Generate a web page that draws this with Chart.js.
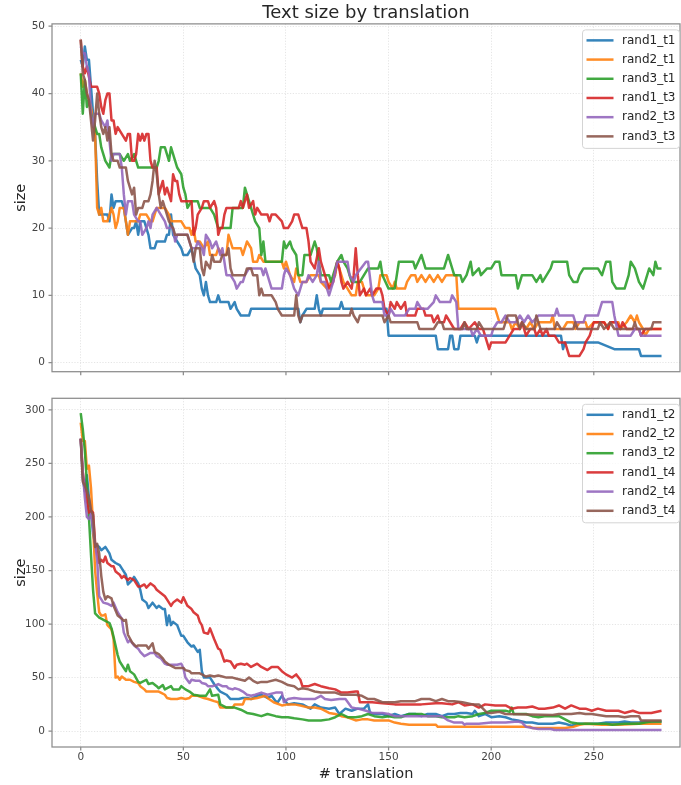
<!DOCTYPE html>
<html>
<head>
	<title>Text size by translation</title>
	<script src="https://cdn.jsdelivr.net/npm/chart.js"></script>
	<style type="text/css">
		body {
			margin: 0;
			padding: 0;
			background: #fff;
		}
		canvas {
			display: block;
		}
	</style>
</head>
<body>
	<canvas id="top" width="681" height="385"></canvas>
	<canvas id="bottom" width="681" height="400"></canvas>

	<script>
		// tick labels
		const xTicks = [0, 50, 100, 150, 200, 250];
		const topTicks = [0, 10, 20, 30, 40, 50];
		const bottomTicks = [0, 50, 100, 150, 200, 250, 300];

		// series names
		const topLabels = ['rand1_t1', 'rand2_t1', 'rand3_t1', 'rand1_t3', 'rand2_t3', 'rand3_t3'];
		const bottomLabels = ['rand1_t2', 'rand2_t2', 'rand3_t2', 'rand1_t4', 'rand2_t4', 'rand3_t4'];
		const colors = ['rgba(31,119,180,0.9)', 'rgba(255,127,14,0.9)', 'rgba(44,160,44,0.9)',
			'rgba(214,39,40,0.9)', 'rgba(148,103,189,0.9)', 'rgba(140,86,75,0.9)'];

		// top panel: [translation, size]
		const rand1_t1 = [[0,45],[1,44],[2,47],[3,45],[4,45],[5,41],[6,37],[7,34],[8,27],[9,22],[13,22],[14,21],[15,25],[16,23],[17,24],[20,24],[21,23],[22,21],[23,19],[25,20],[26,20],[27,21],[28,19],[29,21],[31,21],[33,19],[34,17],[36,17],[37,18],[41,18],[42,19],[43,19],[44,22],[45,19],[47,18],[49,17],[50,16],[52,16],[54,17],[56,14],[58,13],[59,11],[60,10],[61,12],[62,10],[63,9],[66,9],[67,10],[68,9],[72,9],[73,8],[75,9],[76,8],[78,7],[82,7],[83,8],[106,8],[107,6],[108,7],[110,8],[114,8],[115,10],[116,8],[117,7],[118,8],[126,8],[127,9],[128,8],[149,8],[150,4],[173,4],[174,2],[179,2],[180,4],[181,4],[182,2],[184,2],[185,4],[192,4],[193,3],[194,4],[234,4],[235,2],[236,3],[252,3],[260,2],[272,2],[273,1],[283,1]];
		const rand2_t1 = [[0,43],[1,41],[2,42],[3,40],[4,39],[5,38],[6,36],[7,34],[8,23],[9,22],[10,23],[11,21],[13,21],[14,22],[15,23],[16,22],[17,20],[18,21],[19,23],[21,23],[22,21],[23,19],[24,21],[28,21],[29,22],[32,22],[34,21],[35,21],[37,23],[41,23],[43,22],[44,21],[49,21],[51,20],[53,20],[54,19],[55,20],[56,18],[58,18],[60,17],[62,18],[63,16],[66,16],[67,17],[69,16],[71,16],[72,19],[74,17],[78,17],[79,16],[81,18],[83,17],[84,15],[86,15],[87,16],[89,15],[98,15],[99,14],[100,15],[102,13],[104,12],[105,14],[107,12],[110,12],[112,13],[116,13],[117,12],[120,11],[122,12],[124,13],[125,15],[127,13],[128,12],[130,11],[132,10],[134,10],[135,12],[137,12],[139,10],[143,10],[145,11],[146,13],[149,13],[150,12],[152,11],[153,12],[154,11],[158,11],[159,12],[161,13],[163,13],[164,12],[166,13],[168,12],[170,13],[172,12],[174,13],[176,12],[178,13],[183,13],[184,8],[202,8],[204,6],[209,6],[210,5],[212,6],[214,5],[215,6],[217,5],[219,6],[221,5],[223,6],[229,6],[230,7],[231,5],[235,5],[237,6],[240,6],[241,5],[243,6],[246,6],[247,5],[250,6],[255,6],[257,5],[258,6],[262,6],[263,5],[266,6],[268,7],[270,6],[271,7],[272,6],[274,5],[275,4],[277,5],[283,5]];
		const rand3_t1 = [[0,43],[1,37],[2,42],[3,38],[4,39],[5,37],[6,36],[8,34],[9,34],[10,32],[12,30],[14,29],[15,31],[19,31],[21,30],[23,31],[24,30],[26,31],[28,29],[37,29],[38,30],[39,32],[41,32],[42,31],[43,30],[44,32],[45,31],[46,30],[47,29],[49,28],[50,26],[51,25],[52,23],[54,24],[57,24],[58,23],[63,23],[65,22],[66,21],[67,20],[73,20],[74,23],[79,23],[80,26],[81,25],[82,24],[84,22],[85,21],[87,20],[88,16],[89,18],[90,15],[98,15],[99,18],[100,17],[102,18],[103,17],[105,16],[106,13],[108,13],[109,16],[112,16],[114,18],[115,17],[117,13],[121,13],[122,12],[125,15],[127,16],[128,15],[130,14],[132,12],[136,12],[138,13],[140,14],[145,14],[146,15],[147,13],[150,11],[153,11],[155,15],[162,15],[163,14],[166,16],[168,14],[177,14],[179,16],[181,14],[182,13],[185,13],[186,12],[188,13],[190,15],[191,13],[194,14],[195,13],[198,14],[200,14],[202,15],[204,15],[205,13],[212,13],[213,11],[215,13],[220,13],[222,12],[224,13],[225,12],[227,13],[229,14],[230,15],[237,15],[238,13],[240,12],[242,12],[243,13],[245,14],[252,14],[254,13],[256,15],[258,15],[259,12],[261,11],[265,11],[267,13],[268,15],[270,14],[272,12],[274,11],[276,13],[277,14],[279,13],[280,15],[281,14],[283,14]];
		const rand1_t3 = [[0,48],[1,44],[2,43],[3,44],[5,41],[8,41],[9,40],[10,38],[11,37],[12,39],[13,40],[14,40],[15,36],[16,36],[17,34],[18,35],[20,34],[22,33],[23,34],[24,34],[25,30],[26,30],[27,31],[28,34],[29,33],[30,34],[31,33],[32,34],[33,34],[34,30],[35,29],[37,29],[38,25],[40,27],[41,25],[42,26],[44,24],[45,28],[46,27],[47,27],[48,25],[49,24],[54,24],[55,19],[56,20],[57,22],[59,23],[60,24],[62,24],[63,23],[65,24],[66,23],[67,19],[68,20],[69,20],[70,22],[71,23],[77,23],[78,24],[79,23],[81,25],[82,23],[84,24],[85,22],[86,23],[88,22],[91,22],[92,21],[93,22],[95,22],[98,21],[99,20],[101,20],[103,21],[104,22],[106,22],[107,21],[108,20],[110,20],[111,18],[112,15],[114,14],[116,17],[117,15],[118,14],[120,12],[121,11],[123,12],[125,15],[126,14],[127,12],[128,11],[130,12],[132,11],[133,13],[134,17],[135,13],[136,10],[138,11],[139,10],[141,11],[142,10],[144,11],[146,11],[147,10],[148,8],[150,7],[151,9],[153,8],[154,9],[156,8],[158,9],[159,7],[163,7],[164,8],[167,8],[168,7],[171,7],[172,6],[174,7],[175,6],[177,6],[178,7],[180,6],[182,5],[185,5],[187,6],[189,5],[192,6],[194,5],[196,5],[198,3],[199,2],[200,3],[207,3],[209,4],[211,5],[214,5],[215,6],[216,5],[217,4],[219,5],[221,5],[222,4],[224,5],[225,4],[227,5],[228,4],[231,4],[233,3],[236,3],[237,2],[238,1],[243,1],[245,2],[246,3],[248,4],[250,6],[255,6],[257,5],[258,6],[261,6],[263,5],[264,6],[266,5],[272,5],[273,4],[275,5],[283,5]];
		const rand2_t3 = [[0,47],[1,46],[2,46],[3,44],[4,43],[5,37],[6,35],[7,37],[9,37],[10,36],[12,35],[13,36],[14,33],[15,30],[16,31],[19,31],[20,29],[21,25],[22,22],[23,24],[25,24],[26,22],[28,21],[29,21],[30,19],[32,20],[33,21],[34,20],[35,22],[37,23],[39,22],[41,21],[42,20],[45,20],[46,18],[47,19],[52,19],[54,17],[56,17],[57,18],[59,17],[60,16],[61,19],[63,18],[64,17],[66,18],[68,16],[69,17],[71,13],[73,13],[75,12],[76,11],[78,12],[79,12],[80,13],[82,14],[88,14],[89,13],[90,14],[93,11],[98,11],[99,13],[100,14],[102,13],[104,11],[106,10],[108,12],[110,12],[111,13],[113,12],[115,13],[116,15],[117,12],[119,12],[120,11],[121,10],[123,12],[125,15],[130,15],[131,13],[133,12],[134,13],[139,15],[140,15],[142,10],[143,9],[147,9],[148,7],[150,7],[151,8],[153,7],[158,7],[160,8],[163,8],[164,9],[166,8],[169,8],[172,9],[173,10],[175,9],[180,9],[181,10],[183,9],[184,5],[190,5],[191,4],[193,5],[195,4],[200,4],[201,5],[203,6],[205,6],[207,7],[209,6],[212,6],[214,7],[216,6],[218,7],[220,6],[223,7],[231,7],[232,8],[233,7],[240,7],[241,6],[245,6],[246,7],[252,7],[254,9],[259,9],[260,7],[262,4],[268,4],[270,5],[272,5],[273,4],[283,4]];
		const rand3_t3 = [[0,48],[1,43],[2,42],[3,40],[4,39],[5,36],[6,33],[7,36],[8,40],[9,37],[10,35],[11,34],[12,35],[13,33],[14,35],[15,31],[16,30],[18,30],[19,29],[22,29],[23,27],[25,25],[26,26],[27,22],[28,23],[30,23],[31,24],[33,24],[34,25],[35,27],[36,30],[37,28],[38,25],[39,23],[40,24],[41,23],[42,22],[43,21],[45,20],[46,19],[52,19],[53,18],[54,17],[55,15],[56,17],[58,17],[59,14],[60,13],[61,15],[63,14],[64,16],[65,15],[68,15],[69,16],[71,16],[72,17],[73,14],[74,13],[80,13],[81,14],[83,14],[84,13],[86,13],[87,10],[88,11],[89,10],[93,10],[95,9],[96,8],[98,7],[104,7],[105,10],[106,7],[107,6],[108,7],[131,7],[132,8],[133,7],[135,6],[136,7],[147,7],[148,6],[150,7],[151,6],[164,6],[165,5],[172,5],[174,6],[176,6],[177,5],[186,5],[187,6],[188,5],[193,5],[194,6],[196,5],[206,5],[207,6],[208,7],[212,7],[214,5],[215,6],[217,5],[221,5],[222,7],[224,5],[231,5],[232,6],[234,5],[240,5],[241,6],[242,5],[252,5],[253,6],[255,5],[258,6],[260,5],[269,5],[270,6],[271,5],[278,5],[279,6],[283,6]];

		// bottom panel: [translation, size]
		const rand1_t2 = [[0,273],[1,236],[2,224],[3,239],[4,218],[5,209],[6,184],[7,175],[9,172],[10,169],[12,172],[14,166],[15,160],[17,157],[19,155],[20,152],[22,146],[23,137],[25,141],[26,144],[28,138],[29,132],[30,123],[32,120],[33,115],[35,120],[37,115],[38,117],[40,114],[41,114],[42,99],[43,108],[44,99],[45,102],[47,99],[49,89],[50,89],[52,83],[54,79],[55,80],[57,74],[58,76],[59,56],[60,50],[63,50],[65,44],[67,39],[68,37],[71,34],[73,30],[77,30],[79,31],[81,31],[83,30],[84,31],[86,33],[88,34],[91,31],[93,33],[95,28],[96,27],[98,33],[100,27],[101,25],[104,26],[108,25],[111,22],[112,21],[114,25],[117,22],[121,21],[124,22],[126,16],[129,21],[132,19],[135,21],[138,21],[140,25],[141,17],[143,16],[147,16],[150,14],[153,16],[156,14],[160,16],[163,16],[166,14],[169,16],[173,16],[176,14],[179,16],[182,16],[185,17],[188,17],[191,16],[192,19],[194,14],[197,16],[200,13],[204,14],[207,13],[210,11],[213,10],[217,8],[220,8],[223,7],[230,7],[233,8],[236,7],[239,5],[243,7],[252,7],[256,8],[262,8],[265,9],[268,8],[272,8],[275,9],[278,8],[283,9]];
		const rand2_t2 = [[0,288],[1,271],[2,271],[3,245],[4,248],[5,227],[6,193],[7,150],[8,129],[9,111],[10,108],[11,108],[12,109],[13,99],[15,95],[16,86],[17,50],[18,51],[19,48],[20,51],[22,48],[24,48],[26,46],[28,45],[29,42],[31,39],[32,37],[38,37],[39,36],[41,34],[42,31],[44,30],[47,30],[49,31],[51,30],[53,31],[54,33],[57,33],[60,31],[62,30],[65,28],[67,27],[68,22],[74,22],[75,25],[79,25],[80,30],[83,30],[86,31],[90,33],[91,31],[94,27],[98,24],[101,25],[104,25],[107,24],[111,22],[114,22],[117,21],[121,17],[124,16],[127,14],[130,13],[134,10],[137,11],[140,11],[143,10],[150,10],[153,8],[156,7],[160,6],[173,6],[174,4],[219,4],[220,3],[236,3],[240,4],[243,6],[246,7],[254,6],[262,6],[272,7],[283,7]];
		const rand3_t2 = [[0,297],[1,282],[2,262],[3,232],[4,200],[5,165],[6,132],[7,110],[9,106],[10,105],[12,103],[14,101],[15,96],[16,88],[18,71],[19,65],[21,59],[22,56],[23,62],[24,56],[26,53],[28,46],[29,45],[32,48],[33,44],[35,45],[37,42],[38,40],[40,43],[41,39],[44,42],[45,39],[48,39],[49,42],[51,39],[53,37],[55,34],[58,33],[61,33],[63,39],[64,33],[67,34],[68,25],[71,22],[75,22],[78,20],[81,17],[84,16],[88,14],[91,16],[95,14],[98,13],[101,13],[104,12],[108,11],[111,10],[117,10],[121,11],[124,13],[127,16],[130,13],[134,13],[137,14],[140,16],[143,14],[147,13],[150,14],[153,13],[156,13],[160,16],[166,16],[169,14],[173,14],[176,13],[182,13],[184,14],[187,13],[191,14],[194,16],[197,17],[200,19],[207,19],[209,18],[210,22],[211,16],[217,16],[220,14],[223,13],[226,14],[233,14],[236,11],[239,8],[243,7],[256,7],[259,6],[265,7],[272,7],[275,8],[278,9],[283,9]];
		const rand1_t4 = [[0,273],[1,242],[2,227],[3,215],[4,204],[5,206],[6,204],[7,176],[8,166],[9,157],[10,160],[11,158],[12,163],[13,157],[15,154],[16,154],[17,149],[19,146],[20,143],[21,145],[23,141],[24,143],[26,141],[28,135],[29,135],[31,137],[32,134],[34,138],[36,135],[37,132],[39,129],[41,126],[42,123],[44,117],[45,120],[47,123],[49,120],[50,125],[52,117],[54,114],[55,111],[57,108],[58,102],[59,99],[60,92],[62,91],[63,96],[65,86],[67,77],[68,76],[70,65],[71,66],[73,65],[75,59],[76,62],[78,63],[80,62],[81,63],[83,60],[86,63],[88,60],[91,57],[93,60],[96,60],[98,56],[100,53],[103,50],[105,53],[107,48],[108,42],[111,42],[114,44],[117,42],[121,40],[124,39],[127,36],[130,36],[134,37],[135,37],[136,27],[142,27],[147,26],[153,25],[166,25],[173,26],[176,26],[181,25],[184,27],[187,24],[191,25],[194,22],[197,25],[202,24],[207,24],[210,21],[213,22],[217,22],[220,23],[223,21],[226,21],[230,22],[233,24],[236,21],[239,24],[243,21],[246,21],[249,19],[252,21],[256,19],[262,19],[265,17],[269,19],[272,17],[278,17],[283,19]];
		const rand2_t4 = [[0,273],[1,242],[2,218],[3,200],[4,198],[5,203],[6,190],[7,175],[8,160],[9,126],[10,123],[11,120],[13,119],[15,117],[16,120],[18,111],[20,105],[21,92],[23,83],[24,85],[26,80],[28,77],[29,74],[31,70],[32,71],[34,73],[36,73],[37,70],[39,68],[41,63],[42,62],[47,62],[49,63],[50,59],[51,50],[53,45],[54,48],[56,47],[58,47],[59,45],[61,44],[62,42],[64,42],[66,43],[67,44],[69,42],[71,42],[72,40],[74,39],[75,40],[77,39],[79,37],[81,34],[83,33],[85,34],[88,36],[91,34],[95,36],[98,36],[99,27],[101,30],[104,31],[108,30],[114,30],[117,33],[119,30],[122,29],[126,30],[129,30],[132,22],[135,21],[139,19],[142,17],[147,17],[150,16],[153,14],[176,14],[179,10],[182,8],[186,8],[187,6],[188,7],[194,7],[200,8],[207,8],[213,9],[215,8],[217,4],[220,3],[223,2],[229,2],[231,1],[283,1]];
		const rand3_t4 = [[0,273],[1,233],[2,229],[3,224],[4,218],[5,206],[6,202],[7,172],[8,175],[9,166],[10,145],[11,130],[12,123],[13,126],[15,124],[16,117],[18,108],[20,105],[21,103],[22,104],[23,90],[25,83],[27,79],[28,80],[32,80],[33,77],[35,82],[36,74],[38,72],[40,68],[41,65],[43,62],[45,60],[46,59],[50,59],[51,57],[53,56],[54,54],[58,54],[59,53],[61,51],[63,52],[65,51],[67,52],[69,51],[71,50],[74,50],[76,49],[78,48],[80,47],[82,50],[84,47],[86,45],[88,46],[91,46],[95,48],[98,46],[101,43],[104,42],[106,39],[108,40],[111,39],[114,37],[117,36],[124,36],[127,34],[134,34],[137,33],[140,30],[143,30],[147,27],[153,27],[156,28],[163,28],[166,30],[170,30],[173,28],[176,30],[179,28],[182,28],[186,27],[191,25],[194,25],[196,21],[198,17],[200,17],[204,18],[207,16],[230,15],[233,16],[239,16],[243,17],[246,16],[249,16],[256,14],[262,14],[265,13],[268,14],[272,14],[273,10],[283,10]];

		const topSeries = [rand1_t1, rand2_t1, rand3_t1, rand1_t3, rand2_t3, rand3_t3];
		const bottomSeries = [rand1_t2, rand2_t2, rand3_t2, rand1_t4, rand2_t4, rand3_t4];

		Chart.defaults.font.family = '"DejaVu Sans", sans-serif';

		// box around the plot + small outward ticks
		const frame = {
			id: 'frame',
			afterDraw(chart) {
				const {ctx, chartArea: a, scales} = chart;
				ctx.save();
				ctx.strokeStyle = '#8c8c8c';
				ctx.lineWidth = 1.25;
				ctx.strokeRect(a.left, a.top, a.right - a.left, a.bottom - a.top);
				ctx.beginPath();
				scales.x.ticks.forEach(t => {
					const px = scales.x.getPixelForValue(t.value);
					ctx.moveTo(px, a.bottom);
					ctx.lineTo(px, a.bottom + 3.5);
				});
				scales.y.ticks.forEach(t => {
					const py = scales.y.getPixelForValue(t.value);
					ctx.moveTo(a.left - 3.5, py);
					ctx.lineTo(a.left, py);
				});
				ctx.stroke();
				ctx.restore();
			}
		};

		// matplotlib-like legend in the upper right corner
		const boxLegend = {
			id: 'boxLegend',
			afterDraw(chart) {
				const {ctx, chartArea: a} = chart;
				const w = 97, h = 118.5;
				const x = a.right - w - 0.5, y = a.top + 6;
				ctx.save();
				ctx.beginPath();
				ctx.roundRect(x, y, w, h, 3);
				ctx.fillStyle = 'rgba(255,255,255,0.8)';
				ctx.fill();
				ctx.strokeStyle = '#d4d4d4';
				ctx.lineWidth = 1;
				ctx.stroke();
				ctx.font = '12px "DejaVu Sans"';
				ctx.textBaseline = 'middle';
				chart.data.datasets.forEach((ds, i) => {
					const ry = y + 10.5 + i * 19.2;
					ctx.strokeStyle = ds.borderColor;
					ctx.lineWidth = 2.5;
					ctx.beginPath();
					ctx.moveTo(x + 4, ry);
					ctx.lineTo(x + 31, ry);
					ctx.stroke();
					ctx.fillStyle = '#262626';
					ctx.fillText(ds.label, x + 39.5, ry);
				});
				ctx.restore();
			}
		};

		function makeChart(id, labels, series, yMin, yMax, yTicks, isBottom) {
			const ctx = document.getElementById(id).getContext('2d');
			const grid = {color: '#dedede', lineWidth: 0.8, drawTicks: false};
			const border = {display: false, dash: [1.2, 1.6]};
			const tickFont = {size: 10.5};
			return new Chart(ctx, {
				type: 'line',
				data: {
					datasets: series.map((s, i) => ({
						label: labels[i],
						data: s,
						borderColor: colors[i],
						borderWidth: 2.5,
						borderJoinStyle: 'round',
						pointRadius: 0,
						tension: 0,
						fill: false,
						order: series.length - i
					}))
				},
				options: {
					responsive: false,
					animation: false,
					devicePixelRatio: 1,
					layout: {padding: {top: isBottom ? 9 : 0, right: 1, left: 0, bottom: 0}},
					plugins: {
						legend: {display: false},
						tooltip: {enabled: false},
						title: {
							display: !isBottom,
							text: 'Text size by translation',
							fullSize: false,
							color: '#262626',
							font: {size: 18, weight: 'normal', lineHeight: 1.16},
							padding: {top: 3, bottom: 0}
						}
					},
					scales: {
						x: {
							type: 'linear',
							min: -14,
							max: 292,
							afterBuildTicks: s => { s.ticks = xTicks.map(v => ({value: v})); },
							afterFit: s => { s.height = isBottom ? 38 : 8; },
							grid: grid,
							border: border,
							ticks: {display: isBottom, padding: 4, font: tickFont, color: '#444', maxRotation: 0},
							title: {
								display: isBottom,
								text: '# translation',
								color: '#262626',
								font: {size: 14.5},
								padding: {top: 0, bottom: 2}
							}
						},
						y: {
							min: yMin,
							max: yMax,
							afterBuildTicks: s => { s.ticks = yTicks.map(v => ({value: v})); },
							afterFit: s => { s.width = 52; },
							grid: grid,
							border: border,
							ticks: {padding: 7, font: tickFont, color: '#444'},
							title: {
								display: true,
								text: 'size',
								color: '#262626',
								font: {size: 14.5},
								padding: {top: 13, bottom: 0}
							}
						}
					}
				},
				plugins: [frame, boxLegend]
			});
		}

		makeChart('top', topLabels, topSeries, -1.35, 50.35, topTicks, false);
		makeChart('bottom', bottomLabels, bottomSeries, -14.8, 310.8, bottomTicks, true);
	</script>
</body>
</html>
